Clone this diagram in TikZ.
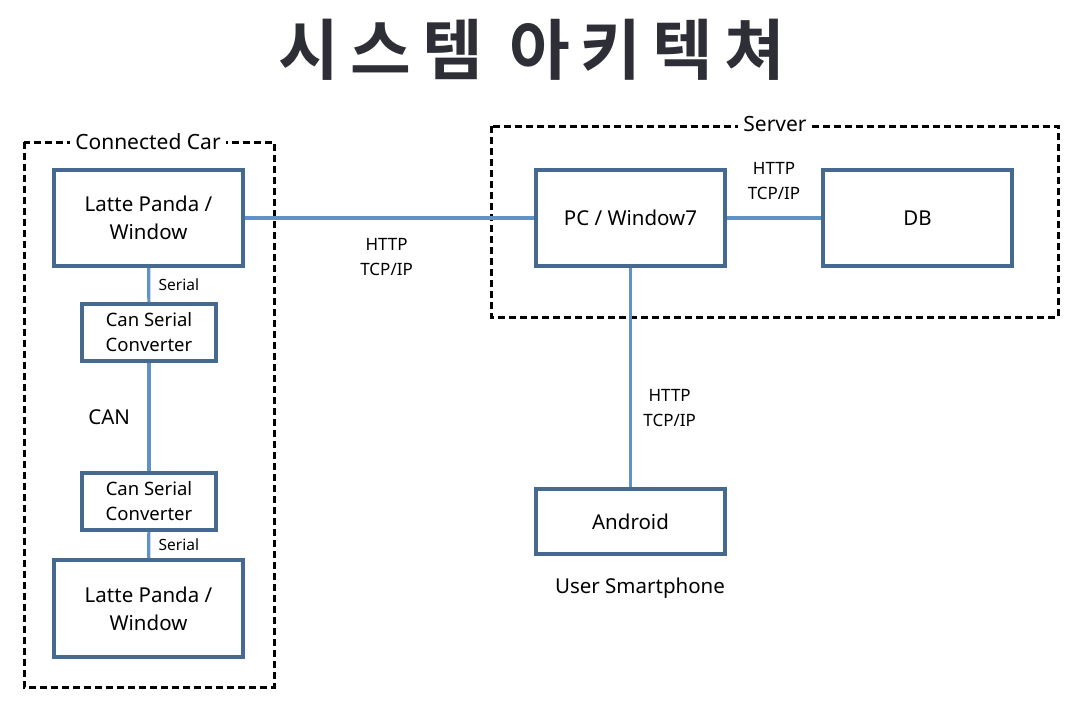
\documentclass[tikz,border=0pt]{standalone}
\usepackage{fontspec}
\setmainfont{Noto Sans}
\newfontfamily\cjk{Noto Sans CJK KR}[BoldFont={* Bold}]
\definecolor{boxline}{HTML}{46698F}
\definecolor{wire}{HTML}{5F93C8}
\definecolor{titlegray}{HTML}{2E2E36}
\tikzset{
    part/.style={draw=boxline, line width=3.6pt, fill=white, align=center, font=\fontsize{20.5}{28}\selectfont, inner sep=0pt},
    small/.style={part, font=\fontsize{18.5}{25}\selectfont},
    group/.style={draw, dash pattern=on 7pt off 4pt, line width=3pt},
    link/.style={draw=wire, line width=3.2pt},
    wiretext/.style={align=center, text=black, font=\fontsize{17}{25}\selectfont},
}
\begin{document}
\begin{tikzpicture}[x=1pt,y=-1pt]
    \useasboundingbox (0,0) rectangle (1088,701);
    \node[font=\cjk\bfseries\fontsize{66}{66}\selectfont, text=titlegray] (title) at (532,50) {시\,스\,템\, 아\,키\,텍\,쳐};

    % groups
    \draw[group] (24,142) rectangle (274,687);
    \node[fill=white, font=\fontsize{21}{24}\selectfont, inner sep=5pt] (carlabel) at (148,142) {Connected Car};
    \draw[group] (491,126) rectangle (1058,317);
    \node[fill=white, font=\fontsize{21}{24}\selectfont, inner sep=5pt] (serverlabel) at (775,124) {Server};

    % car
    \node[part, minimum width=189pt, minimum height=96pt] (lp1) at (148.5,218) {Latte Panda /\\Window};
    \node[small, minimum width=134pt, minimum height=57pt] (csc1) at (149,332.5) {Can Serial\\Converter};
    \node[small, minimum width=134pt, minimum height=57pt] (csc2) at (149,501.5) {Can Serial\\Converter};
    \node[part, minimum width=189pt, minimum height=97pt] (lp2) at (148.5,608.5) {Latte Panda /\\Window};

    % server and phone
    \node[part, minimum width=189pt, minimum height=96pt] (pc) at (630.5,218) {PC / Window7};
    \node[part, minimum width=189pt, minimum height=96pt] (db) at (917.5,218) {DB};
    \node[part, minimum width=189pt, minimum height=65pt] (android) at (630.5,521.5) {Android};
    \node[font=\fontsize{20.5}{24}\selectfont] (phone) at (640,588) {User Smartphone};

    \draw[link] (lp1) -- (pc) node[wiretext, pos=0.49, below=15pt] {HTTP\\TCP/IP};
    \draw[link] (pc) -- (db) node[wiretext, midway, above=13pt] {HTTP\\TCP/IP};
    \draw[link] (pc) -- (android) node[wiretext, pos=0.64, right=8pt] {HTTP\\TCP/IP};
    \draw[link] (lp1) -- (csc1) node[wiretext, midway, right=5pt, font=\fontsize{15.5}{18}\selectfont] {Serial};
    \draw[link] (csc1) -- (csc2) node[wiretext, midway, left=14pt, font=\fontsize{20.5}{24}\selectfont] {CAN};
    \draw[link] (csc2) -- (lp2) node[wiretext, midway, right=5pt, font=\fontsize{15.5}{18}\selectfont] {Serial};
\end{tikzpicture}
\end{document}
